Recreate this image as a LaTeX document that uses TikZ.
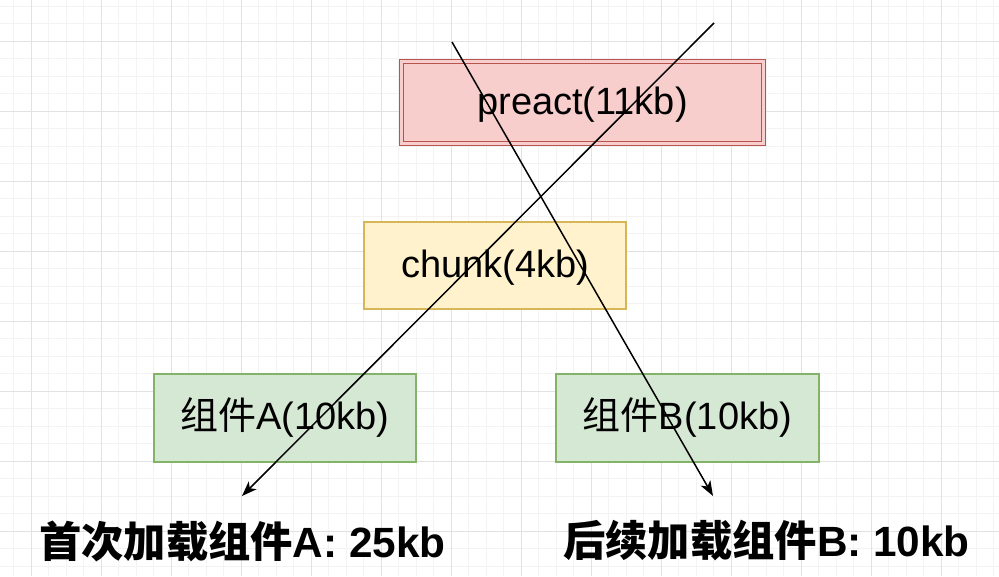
\documentclass[tikz,border=0pt]{standalone}
\usepackage{fontspec}
\setmainfont{Liberation Sans}
\newfontfamily\cjk{Noto Sans CJK SC}
\usetikzlibrary{arrows.meta}
\definecolor{gridminor}{HTML}{F3F3F3}
\definecolor{gridmajor}{HTML}{E2E2E2}
\definecolor{redfill}{HTML}{F8CECC}
\definecolor{redline}{HTML}{B85450}
\definecolor{yelfill}{HTML}{FFF2CC}
\definecolor{yelline}{HTML}{D6B656}
\definecolor{grnfill}{HTML}{D5E8D4}
\definecolor{grnline}{HTML}{82B366}
\tikzset{
  box/.style={inner sep=0pt, line width=1.5pt, text height=29pt, text depth=6pt,
    font=\fontsize{38}{40}\selectfont},
  total/.style={inner sep=0pt, font=\fontsize{42.3}{44}\selectfont\bfseries},
  load/.style={line width=1.5pt, -{Stealth[length=15pt,width=11pt,inset=4pt]}}
}
\begin{document}
\begin{tikzpicture}[x=1pt,y=-1pt]
\useasboundingbox (0,0) rectangle (999,576);
\fill[white] (0,0) rectangle (999,576);
%Luoi nen
\foreach \x in {13.5,31,...,999} \draw[gridminor,line width=1pt] (\x,0)--(\x,576);
\foreach \y in {6,23.5,...,576} \draw[gridminor,line width=1pt] (0,\y)--(999,\y);
\foreach \x in {31,101,...,999} \draw[gridmajor,line width=1pt] (\x,0)--(\x,576);
\foreach \y in {41,111,...,576} \draw[gridmajor,line width=1pt] (0,\y)--(999,\y);
%Khung preact
\node[box, draw=redline, fill=redfill, double=redfill, double distance=2.2pt, line width=1.6pt,
  minimum width=362, minimum height=82] (preact) at (582.5,102.5) {preact(11kb)};
%Khung chunk
\node[box, draw=yelline, fill=yelfill, minimum width=262, minimum height=87] (chunk) at (495,265.5) {chunk(4kb)};
%Khung A, B
\node[box, draw=grnline, fill=grnfill, minimum width=262, minimum height=88] (compA) at (285,418) {{\cjk 组件}A(10kb)};
\node[box, draw=grnline, fill=grnfill, minimum width=263, minimum height=88] (compB) at (687.5,418) {{\cjk 组件}B(10kb)};
%Ket qua
\node[total] (totalA) at (242.5,541) {{\cjk\bfseries 首次加载组件}A: 25kb};
\node[total] (totalB) at (766.5,541) {{\cjk\bfseries 后续加载组件}B: 10kb};
%Mui ten
\coordinate (startA) at (714,23);
\coordinate (endA) at (242,496);
\coordinate (startB) at (452,42);
\coordinate (endB) at (713,496);
\draw[load] (startA)--(endA);
\draw[load] (startB)--(endB);
\end{tikzpicture}
\end{document}
